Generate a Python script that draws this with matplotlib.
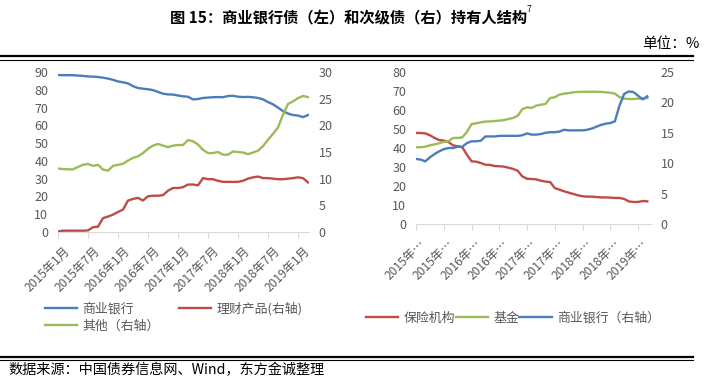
import matplotlib
matplotlib.use("Agg")
import matplotlib.pyplot as plt
import matplotlib.transforms as mtransforms
from matplotlib.lines import Line2D
import numpy as np

plt.rcParams['font.family'] = ['Noto Sans CJK SC', 'DejaVu Sans']

# ---- data (monthly, 2015-01 .. 2019-03) ----
months = np.arange(51)
tick_pos = [0, 6, 12, 18, 24, 30, 36, 42, 48]
left_ticklabels = ["2015年1月", "2015年7月", "2016年1月", "2016年7月", "2017年1月",
                   "2017年7月", "2018年1月", "2018年7月", "2019年1月"]
right_ticklabels = ["2015年…", "2015年…", "2016年…", "2016年…", "2017年…",
                    "2017年…", "2018年…", "2018年…", "2019年…"]

# left chart: 商业银行债
bank_left = [88.3, 88.2, 88.2, 88.2, 88.0, 87.8, 87.5, 87.4, 87.2, 86.8,
             86.3, 85.6, 84.7, 84.2, 83.6, 82.0, 81.0, 80.6, 80.3, 79.8,
             78.8, 77.8, 77.4, 77.3, 76.8, 76.3, 76.1, 74.6, 74.8, 75.4,
             75.6, 75.8, 75.9, 75.8, 76.5, 76.6, 76.1, 75.9, 76.0, 75.8,
             75.4, 74.6, 73.1, 71.8, 70.0, 68.0, 66.6, 65.8, 65.5, 64.6, 65.8]
wealth_left = [0.1, 0.25, 0.25, 0.25, 0.25, 0.25, 0.3, 0.9, 1.0, 2.6,
               2.9, 3.25, 3.75, 4.2, 5.9, 6.2, 6.4, 5.9, 6.7, 6.8,
               6.8, 6.9, 7.75, 8.25, 8.25, 8.4, 8.9, 8.9, 8.75, 10.1,
               9.9, 9.9, 9.6, 9.4, 9.4, 9.4, 9.4, 9.6, 10.0, 10.25,
               10.4, 10.1, 10.1, 10.0, 9.9, 9.9, 10.0, 10.1, 10.25, 10.1, 9.3]
other_left = [11.9, 11.8, 11.75, 11.75, 12.2, 12.6, 12.75, 12.4, 12.6, 11.7,
              11.5, 12.4, 12.6, 12.8, 13.4, 13.9, 14.2, 14.8, 15.6, 16.2,
              16.5, 16.2, 15.9, 16.2, 16.3, 16.3, 17.25, 17.0, 16.4, 15.4,
              14.8, 14.8, 15.0, 14.5, 14.5, 15.1, 15.0, 14.9, 14.6, 14.9,
              15.25, 16.1, 17.3, 18.4, 19.6, 22.0, 24.0, 24.5, 25.1, 25.5, 25.3]

# right chart: 次级债
insurance = [47.9, 47.9, 47.7, 46.7, 45.3, 44.2, 43.9, 43.2, 41.4, 40.9,
             40.4, 36.5, 33.0, 32.8, 32.1, 31.2, 31.1, 30.5, 30.4, 30.2,
             29.6, 29.0, 28.0, 25.0, 23.8, 23.7, 23.5, 22.8, 22.3, 22.1,
             18.9, 18.1, 17.2, 16.5, 15.8, 15.1, 14.6, 14.4, 14.4, 14.2,
             14.0, 14.0, 13.9, 13.7, 13.7, 13.2, 11.9, 11.6, 11.6, 12.1, 11.9]
fund = [40.4, 40.4, 40.7, 41.4, 41.9, 42.5, 43.2, 43.5, 45.3, 45.3,
        45.6, 48.4, 52.6, 53.0, 53.5, 53.9, 54.0, 54.2, 54.4, 54.7,
        55.3, 55.8, 57.0, 60.5, 61.4, 61.1, 62.3, 62.8, 63.2, 66.3,
        66.7, 68.1, 68.6, 68.9, 69.3, 69.5, 69.6, 69.6, 69.6, 69.6,
        69.5, 69.3, 69.1, 68.6, 66.8, 66.0, 65.8, 65.8, 66.0, 66.0, 66.3]
bank_right = [10.7, 10.6, 10.3, 10.96, 11.5, 11.95, 12.3, 12.5, 12.5, 12.7,
              12.7, 13.3, 13.6, 13.6, 13.7, 14.4, 14.4, 14.4, 14.5, 14.5,
              14.5, 14.5, 14.5, 14.6, 14.9, 14.7, 14.7, 14.8, 15.0, 15.1,
              15.1, 15.2, 15.5, 15.4, 15.4, 15.4, 15.4, 15.5, 15.7, 16.0,
              16.3, 16.5, 16.6, 16.9, 19.5, 21.4, 21.8, 21.7, 21.1, 20.5, 21.0]

BLUE = "#4a7ebb"
RED = "#be4b48"
GREEN = "#9bbb59"
GRAY = "#595959"
AXC = "#d9d9d9"

W, H = 705, 381
fig = plt.figure(figsize=(W / 100, H / 100), dpi=100)


def px_axes(x0, y0, x1, y1):
    return fig.add_axes([x0 / W, 1 - y1 / H, (x1 - x0) / W, (y1 - y0) / H])


def style(ax, axr, labels, xmax, dx):
    for a in (ax, axr):
        for s in ("top", "left", "right", "bottom"):
            a.spines[s].set_visible(False)
        a.tick_params(axis="y", length=0, labelsize=9, colors=GRAY, pad=7)
    ax.spines["bottom"].set_visible(True)
    ax.spines["bottom"].set_color(AXC)
    ax.spines["bottom"].set_linewidth(0.8)
    ax.set_xlim(0, xmax)
    ax.set_xticks(tick_pos)
    ax.set_xticklabels(labels, rotation=45, ha="right", va="top",
                       rotation_mode="anchor", fontsize=8.7, color=GRAY)
    ax.tick_params(axis="x", direction="out", length=4, color=AXC, width=0.8, pad=3)
    off = mtransforms.ScaledTranslation(dx / 100, -3 / 100, fig.dpi_scale_trans)
    for lab in ax.get_xticklabels():
        lab.set_transform(lab.get_transform() + off)


# ---- left chart ----
axL = px_axes(58, 72, 309, 232)
axL2 = axL.twinx()
axL.plot(months, bank_left, color=BLUE, lw=1.7)
axL2.plot(months, wealth_left, color=RED, lw=1.7)
axL2.plot(months, other_left, color=GREEN, lw=1.7)
axL.set_ylim(0, 90)
axL.set_yticks(range(0, 91, 10))
axL2.set_ylim(0, 30)
axL2.set_yticks(range(0, 31, 5))
style(axL, axL2, left_ticklabels, 50.2, 5)

hL = [Line2D([], [], color=BLUE, lw=1.7), Line2D([], [], color=GREEN, lw=1.7),
      Line2D([], [], color=RED, lw=1.7)]
fig.legend(hL, ["商业银行", "其他（右轴）", "理财产品(右轴)"], ncol=2,
           loc="upper left", bbox_to_anchor=(45 / W, 1 - 302 / H),
           frameon=False, fontsize=9.3, labelcolor=GRAY, borderpad=0,
           borderaxespad=0, handlelength=2.5, handletextpad=0.4,
           columnspacing=1.5, labelspacing=0.35)

# ---- right chart ----
axR = px_axes(416, 72, 651, 224)
axR2 = axR.twinx()
axR.plot(months, insurance, color=RED, lw=1.7)
axR.plot(months, fund, color=GREEN, lw=1.7)
axR2.plot(months, bank_right, color=BLUE, lw=1.7)
axR.set_ylim(0, 80)
axR.set_yticks(range(0, 81, 10))
axR2.set_ylim(0, 25)
axR2.set_yticks(range(0, 26, 5))
style(axR, axR2, right_ticklabels, 50.8, 3)

hR = [Line2D([], [], color=RED, lw=1.7), Line2D([], [], color=GREEN, lw=1.7),
      Line2D([], [], color=BLUE, lw=1.7)]
fig.legend(hR, ["保险机构", "基金", "商业银行（右轴）"], ncol=3,
           loc="upper left", bbox_to_anchor=(366 / W, 1 - 312 / H),
           frameon=False, fontsize=9.3, labelcolor=GRAY, borderpad=0,
           borderaxespad=0, handlelength=2.5, handletextpad=0.45,
           columnspacing=0.0)

# ---- title, unit, rules, source ----
fig.text(349 / W, 1 - 17 / H, "图 15：商业银行债（左）和次级债（右）持有人结构",
         ha="center", va="center", fontsize=11, fontweight="bold", color="black")
fig.text(527 / W, 1 - 10 / H, "7", ha="left", va="center", fontsize=6, color="black")
fig.text(700 / W, 1 - 44 / H, "单位：%", ha="right", va="center", fontsize=10.5,
         color="black")

for y, lw in ((56, 1.6), (59.5, 0.8), (356.5, 1.6), (360, 0.8)):
    fig.add_artist(Line2D([0, 693 / W], [1 - y / H, 1 - y / H], color="black",
                          lw=lw, transform=fig.transFigure))

fig.text(8 / W, 1 - 370 / H, "数据来源：中国债券信息网、Wind，东方金诚整理",
         ha="left", va="center", fontsize=10.2, color="black")

fig.savefig("out.png", dpi=100)
